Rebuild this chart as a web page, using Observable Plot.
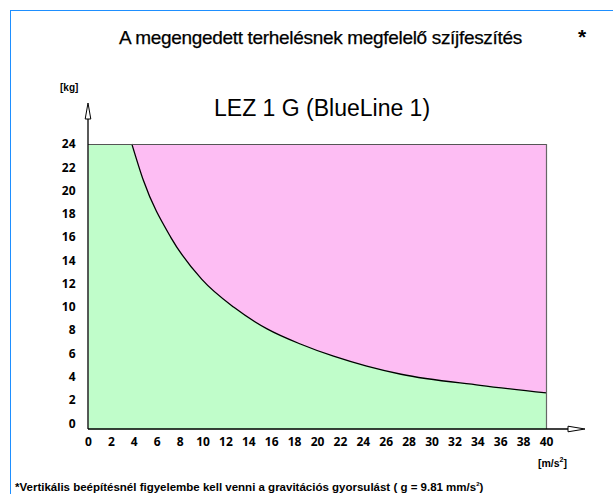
<!DOCTYPE html>
<html>
<head>
<meta charset="utf-8">
<script src="https://cdn.jsdelivr.net/npm/d3@7"></script>
<script src="https://cdn.jsdelivr.net/npm/@observablehq/plot@0.6"></script>
<style>
  html, body { margin: 0; padding: 0; background: #fff; }
  #wrap { position: relative; width: 613px; height: 494px; overflow: hidden; font-family: "Liberation Sans", Arial, sans-serif; }
  #frameline { position: absolute; left: 10px; top: 10px; right: -5px; bottom: -5px; border-top: 1px solid #1e8fff; border-left: 1px solid #1e8fff; }
  .t { position: absolute; white-space: nowrap; line-height: 1; color: #000; }
  #title { left: 119px; top: 28px; font-size: 19px; letter-spacing: -0.32px; -webkit-text-stroke: 0.25px #000; }
  #star { left: 578px; top: 26px; font-size: 21px; font-weight: bold; }
  #kg { left: 60px; top: 83px; font-size: 10px; font-weight: bold; }
  #sub { left: 214px; top: 97px; font-size: 23px; }
  #ms { left: 538px; top: 456px; font-size: 10.5px; font-weight: bold; }
  #foot { left: 15px; top: 481px; font-size: 11.5px; font-weight: bold; }
  #chart { position: absolute; left: 0; top: 0; }
</style>
</head>
<body>
<div id="wrap">
  <div id="chart"></div>
  <div id="frameline"></div>
  <div class="t" id="title">A megengedett terhelésnek megfelelő szíjfeszítés</div>
  <div class="t" id="star">*</div>
  <div class="t" id="kg">[kg]</div>
  <div class="t" id="sub">LEZ 1 G (BlueLine 1)</div>
  <div class="t" id="ms">[m/s<sup style="font-size:7px">2</sup>]</div>
  <div class="t" id="foot">*Vertikális beépítésnél figyelembe kell venni a gravitációs gyorsulást ( g = 9.81 mm/s<sup style="font-size:6px">2</sup>)</div>
</div>
<script>
// Data
const accel = [3.8, 4.8, 7.2, 9.9, 12.7, 15.6, 18.5, 21.4, 24.3, 27.3, 34.2, 40];   // m/s²
const loadKg = [24, 20.9, 16.0, 12.4, 10.0, 8.15, 6.85, 5.8, 4.95, 4.25, 3.3, 2.64]; // kg
const xTicks = d3.range(0, 41, 2);
const yTicks = d3.range(0, 25, 2);
const xDomain = [0, 40];
const yDomain = [-0.5, 24];
const yMax = 24;

const curveData = accel.map((a, i) => ({a, kg: loadKg[i]}));

const green = "#c0fdca";
const pink = "#fdbdf3";
const tickFont = "'Open Sans', 'DejaVu Sans', sans-serif";

const chart = Plot.plot({
  width: 613,
  height: 494,
  marginLeft: 88,
  marginRight: 67,
  marginTop: 144,
  marginBottom: 65,
  x: {domain: xDomain, label: null},
  y: {domain: yDomain, label: null},
  style: {fontFamily: tickFont, fontSize: "12px", fontWeight: "bold", color: "#000", background: "transparent"},
  marks: [
    Plot.frame({fill: green, stroke: "none"}),
    Plot.areaY(curveData, {x: "a", y1: "kg", y2: () => yMax, fill: pink, curve: "monotone-x"}),
    Plot.line(curveData, {x: "a", y: "kg", stroke: "#000", strokeWidth: 1.3, curve: "monotone-x"}),
    Plot.ruleY([yMax], {stroke: "#555", strokeWidth: 1.2}),
    Plot.ruleX([xDomain[1]], {stroke: "#666", strokeWidth: 1.2}),
    Plot.axisX({ticks: xTicks, tickSize: 0, tickPadding: 8, tickFormat: d => d, fontWeight: "bold", fontSize: 12, label: null}),
    Plot.axisY({ticks: yTicks, tickSize: 0, tickPadding: 13, tickFormat: d => d, fontWeight: "bold", fontSize: 12, label: null})
  ]
});
document.getElementById("chart").appendChild(chart);

// Axis lines with hollow arrowheads, placed from the scales' ranges
const sx = chart.scale("x"), sy = chart.scale("y");
const x0 = sx.range[0], x1 = sx.range[1];
const yB = sy.range[0], yT = sy.range[1];
const svg = d3.select(chart);
const g = svg.append("g").attr("fill", "none").attr("stroke", "#000");
// y axis
g.append("line").attr("x1", x0).attr("x2", x0).attr("y1", yB).attr("y2", yT - 25).attr("stroke-width", 1.3);
g.append("path").attr("d", `M${x0},${yT - 41} L${x0 - 2.8},${yT - 25} L${x0 + 2.8},${yT - 25} Z`).attr("fill", "#fff").attr("stroke-width", 1);
// x axis
g.append("line").attr("x1", x0).attr("x2", x1 + 22).attr("y1", yB).attr("y2", yB).attr("stroke-width", 1.3);
g.append("path").attr("d", `M${x1 + 39},${yB} L${x1 + 22},${yB - 2.8} L${x1 + 22},${yB + 2.8} Z`).attr("fill", "#fff").attr("stroke-width", 1);
</script>
</body>
</html>
